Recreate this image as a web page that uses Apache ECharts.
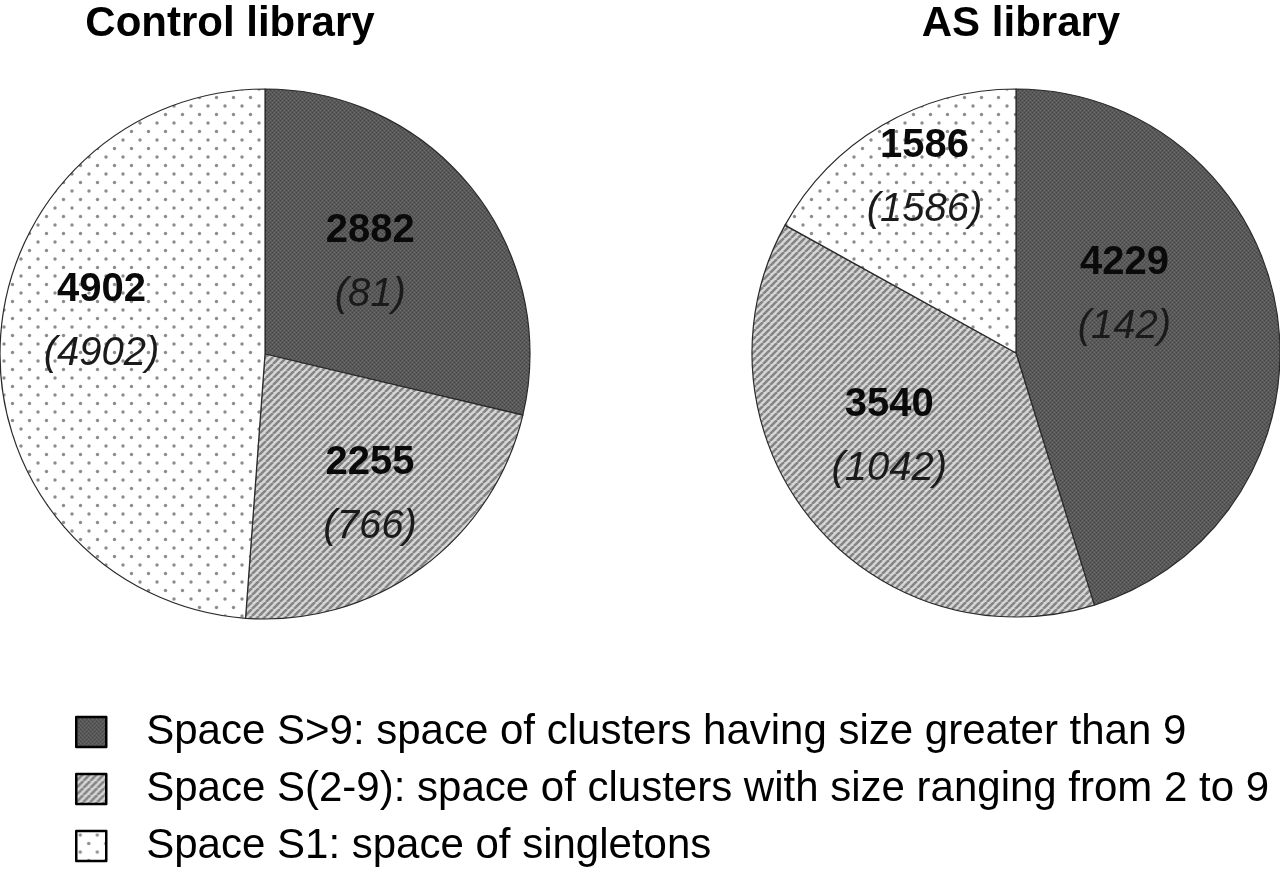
<!DOCTYPE html>
<html>
<head>
<meta charset="utf-8">
<script src="https://cdn.jsdelivr.net/npm/echarts@6/dist/echarts.min.js"></script>
<style>
  html, body { margin: 0; padding: 0; background: #fff; }
  #chart { width: 1280px; height: 869px; }
</style>
</head>
<body>
<div id="chart"></div>
<script>
// data
const spaceNames = [
  'Space S>9: space of clusters having size greater than 9',
  'Space S(2-9): space of clusters with size ranging from 2 to 9',
  'Space S1: space of singletons'
]
const controlValues = [2882, 2255, 4902]
const controlCounts = [81, 766, 4902]
const asValues = [4229, 3540, 1586]
const asCounts = [142, 1042, 1586]

// fill patterns
const makePattern = (w, h, draw) => {
  const c = document.createElement('canvas')
  c.width = w
  c.height = h
  draw(c.getContext('2d'), w, h)
  return { image: c, repeat: 'repeat' }
}

const darkFill = makePattern(4, 4, (ctx) => {
  ctx.fillStyle = '#595959'
  ctx.fillRect(0, 0, 4, 4)
  ctx.fillStyle = '#444'
  ctx.fillRect(0, 0, 1, 1)
  ctx.fillRect(2, 2, 1, 1)
  ctx.fillStyle = '#6c6c6c'
  ctx.fillRect(2, 0, 1, 1)
  ctx.fillRect(0, 2, 1, 1)
})

const stripeFill = makePattern(7, 7, (ctx, w, h) => {
  ctx.fillStyle = '#d6d6d6'
  ctx.fillRect(0, 0, w, h)
  ctx.strokeStyle = '#858585'
  ctx.lineWidth = 2.6
  for (const o of [-w, 0, w]) {
    ctx.beginPath()
    ctx.moveTo(o, h)
    ctx.lineTo(o + w, 0)
    ctx.stroke()
  }
})

const dotFill = makePattern(17, 17, (ctx, w, h) => {
  ctx.fillStyle = '#fff'
  ctx.fillRect(0, 0, w, h)
  ctx.fillStyle = '#8c8c8c'
  for (const [x, y] of [[4, 4], [12.5, 12.5]]) {
    ctx.beginPath()
    ctx.arc(x, y, 1.7, 0, Math.PI * 2)
    ctx.fill()
  }
})

const fills = [darkFill, stripeFill, dotFill]

// label nudges (px) so labels sit where the figure has them
const controlNudge = [[-1, -7], [25, 32], [-28, -27]]
const asNudge = [[-25, -38], [-22, -1], [-23, -59]]

const buildData = (values, counts, nudges) =>
  values.map((v, i) => ({
    name: spaceNames[i],
    value: v,
    itemStyle: { color: fills[i] },
    label: {
      offset: nudges[i],
      formatter: '{a|' + v + '}\n{b|(' + counts[i] + ')}'
    }
  }))

const font = 'Liberation Sans, Arial, sans-serif'

const pieLabel = {
  show: true,
  position: 'inside',
  rich: {
    a: { fontFamily: font, fontWeight: 'bold', fontSize: 40, color: '#0a0a0a', lineHeight: 64 },
    b: { fontFamily: font, fontStyle: 'italic', fontSize: 40, color: '#1a1a1a', lineHeight: 64 }
  }
}

const pieBase = {
  type: 'pie',
  startAngle: 90,
  clockwise: true,
  animation: false,
  silent: true,
  labelLine: { show: false },
  itemStyle: { borderColor: '#2a2a2a', borderWidth: 1.2 },
  label: pieLabel
}

const titleStyle = { fontFamily: font, fontWeight: 'bold', fontSize: 42, color: '#000' }

const chart = echarts.init(document.getElementById('chart'))
chart.setOption({
  backgroundColor: '#fff',
  title: [
    { text: 'Control library', left: 225, top: -2, textAlign: 'center', textStyle: titleStyle },
    { text: 'AS library', left: 1016, top: -2, textAlign: 'center', textStyle: titleStyle }
  ],
  legend: {
    orient: 'vertical',
    left: 75,
    top: 710,
    height: 200,
    icon: 'rect',
    itemWidth: 30,
    itemHeight: 30,
    itemGap: 13,
    padding: 0,
    selectedMode: false,
    data: spaceNames,
    itemStyle: { borderColor: '#000', borderWidth: 2.5 },
    textStyle: {
      fontFamily: font,
      fontSize: 42,
      color: '#000',
      lineHeight: 44,
      padding: [0, 0, 0, 35]
    }
  },
  series: [
    {
      ...pieBase,
      name: 'Control library',
      center: [265, 354],
      radius: 265,
      data: buildData(controlValues, controlCounts, controlNudge)
    },
    {
      ...pieBase,
      name: 'AS library',
      center: [1016, 353],
      radius: 264,
      data: buildData(asValues, asCounts, asNudge)
    }
  ]
})

window.addEventListener('resize', () => chart.resize())
</script>
</body>
</html>
